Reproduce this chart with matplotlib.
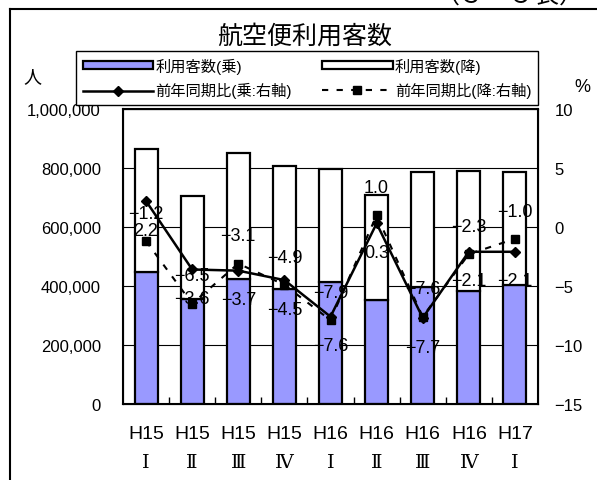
import matplotlib
matplotlib.use('Agg')
import matplotlib.pyplot as plt
from matplotlib.patches import Patch
from matplotlib.lines import Line2D
from matplotlib.ticker import FuncFormatter, MultipleLocator
import matplotlib.transforms as mtransforms
import numpy as np

plt.rcParams['font.family'] = ['Liberation Sans', 'Noto Sans CJK JP']
plt.rcParams['axes.unicode_minus'] = True

# 四半期
years = ['H15', 'H15', 'H15', 'H15', 'H16', 'H16', 'H16', 'H16', 'H17']
quarters = ['Ⅰ', 'Ⅱ', 'Ⅲ', 'Ⅳ', 'Ⅰ', 'Ⅱ', 'Ⅲ', 'Ⅳ', 'Ⅰ']
# 利用客数（人）
jo = [447000, 356000, 424000, 390000, 413000, 353000, 396000, 383000, 403000]
ko = [416000, 349000, 427000, 417000, 384000, 355000, 390000, 407000, 383000]
# 前年同期比（％）
yoy_jo = [2.2, -3.6, -3.7, -4.5, -7.6, 0.3, -7.7, -2.1, -2.1]
yoy_ko = [-1.2, -6.5, -3.1, -4.9, -7.9, 1.0, -7.6, -2.3, -1.0]

PURPLE = '#9999FF'

fig = plt.figure(figsize=(5.97, 4.81), dpi=100)
ax = fig.add_axes([123/597, 1-405/481, 415/597, 295/481])

x = np.arange(len(years))
ax.bar(x, jo, width=0.5, color=PURPLE, edgecolor='black', linewidth=1.6, zorder=2)
ax.bar(x, ko, width=0.5, bottom=jo, color='white', edgecolor='black',
       linewidth=1.6, zorder=2)

ax.set_ylim(0, 1000000)
ax.set_xlim(-0.5, len(years)-0.5)
ax.yaxis.set_major_locator(MultipleLocator(200000))
ax.yaxis.set_major_formatter(FuncFormatter(lambda v, p: f'{int(v):,}'))
ax.grid(axis='y', color='black', linewidth=0.8, zorder=0)
ax.set_axisbelow(True)
ax.set_xticks(x)
ax.set_xticklabels(years, fontsize=14)
ax.set_xticks(x[:-1] + 0.5, minor=True)
ax.tick_params(axis='x', which='major', length=0, pad=15)
ax.tick_params(axis='x', which='minor', direction='in', length=5, width=1)
ax.tick_params(axis='y', length=0, pad=16, labelsize=12)
for s in ax.spines.values():
    s.set_linewidth(1.5)

# ローマ数字は別行に
trans = mtransforms.blended_transform_factory(ax.transData, ax.transAxes)
for xi, q in zip(x, quarters):
    ax.annotate(q, (xi, 0), xycoords=trans, xytext=(0, -42),
                textcoords='offset points', ha='center', va='center',
                fontsize=14, family=['DejaVu Serif', 'Noto Sans CJK JP'])

ax2 = ax.twinx()
ax2.set_ylim(-15, 10)
ax2.yaxis.set_major_locator(MultipleLocator(5))
ax2.tick_params(axis='y', length=0, pad=12, labelsize=12)
ax2.plot(x, yoy_jo, color='black', linewidth=1.8, marker='D', markersize=5,
         zorder=3)
ax2.plot(x, yoy_ko, color='black', linewidth=1.5, linestyle=(0, (3, 4)),
         marker='s', markersize=6, zorder=3)

def fmt(v):
    return f'{v:.1f}'.replace('-', '\u2212')

for xi, v in zip(x, yoy_jo):
    ax2.annotate(fmt(v), (xi, v), xytext=(0, -21), textcoords='offset points',
                 ha='center', va='center', fontsize=13, zorder=4)
for xi, v in zip(x, yoy_ko):
    ax2.annotate(fmt(v), (xi, v), xytext=(0, 20), textcoords='offset points',
                 ha='center', va='center', fontsize=13, zorder=4)

fig.text(32/597, 1-78/481, '人', fontsize=13, ha='center', va='center')
fig.text(582/597, 1-87/481, '%', fontsize=13, ha='center', va='center')
fig.text(305/597, 1-37/481, '航空便利用客数', fontsize=18, ha='center', va='center')
fig.text(510/597, 1+4/481, '（３－５表）', fontsize=18, ha='center', va='center')

handles = [
    Patch(facecolor=PURPLE, edgecolor='black', linewidth=1.6),
    Line2D([], [], color='black', linewidth=1.8, marker='D', markersize=5),
    Patch(facecolor='white', edgecolor='black', linewidth=1.6),
    Line2D([], [], color='black', linewidth=1.5, linestyle=(0, (3, 4)),
           marker='s', markersize=6),
]
labels = ['利用客数(乗)', '前年同期比(乗:右軸)', '利用客数(降)', '前年同期比(降:右軸)']
leg = fig.legend(handles, labels, ncol=2, loc='center',
                 bbox_to_anchor=(307/597, 1-79/481), fontsize=11,
                 handlelength=4.6, handleheight=0.45, handletextpad=0.15,
                 columnspacing=2.0, labelspacing=0.55, borderpad=0.45,
                 fancybox=False, framealpha=1)
leg.get_frame().set_edgecolor('black')
leg.get_frame().set_linewidth(1.0)

# 外枠
fig.add_artist(Line2D([10/597, 10/597], [0, 1-10/481], color='black', linewidth=1.5))
fig.add_artist(Line2D([10/597, 1], [1-10/481, 1-10/481], color='black', linewidth=1.5))

fig.savefig('out.png', dpi=100)
